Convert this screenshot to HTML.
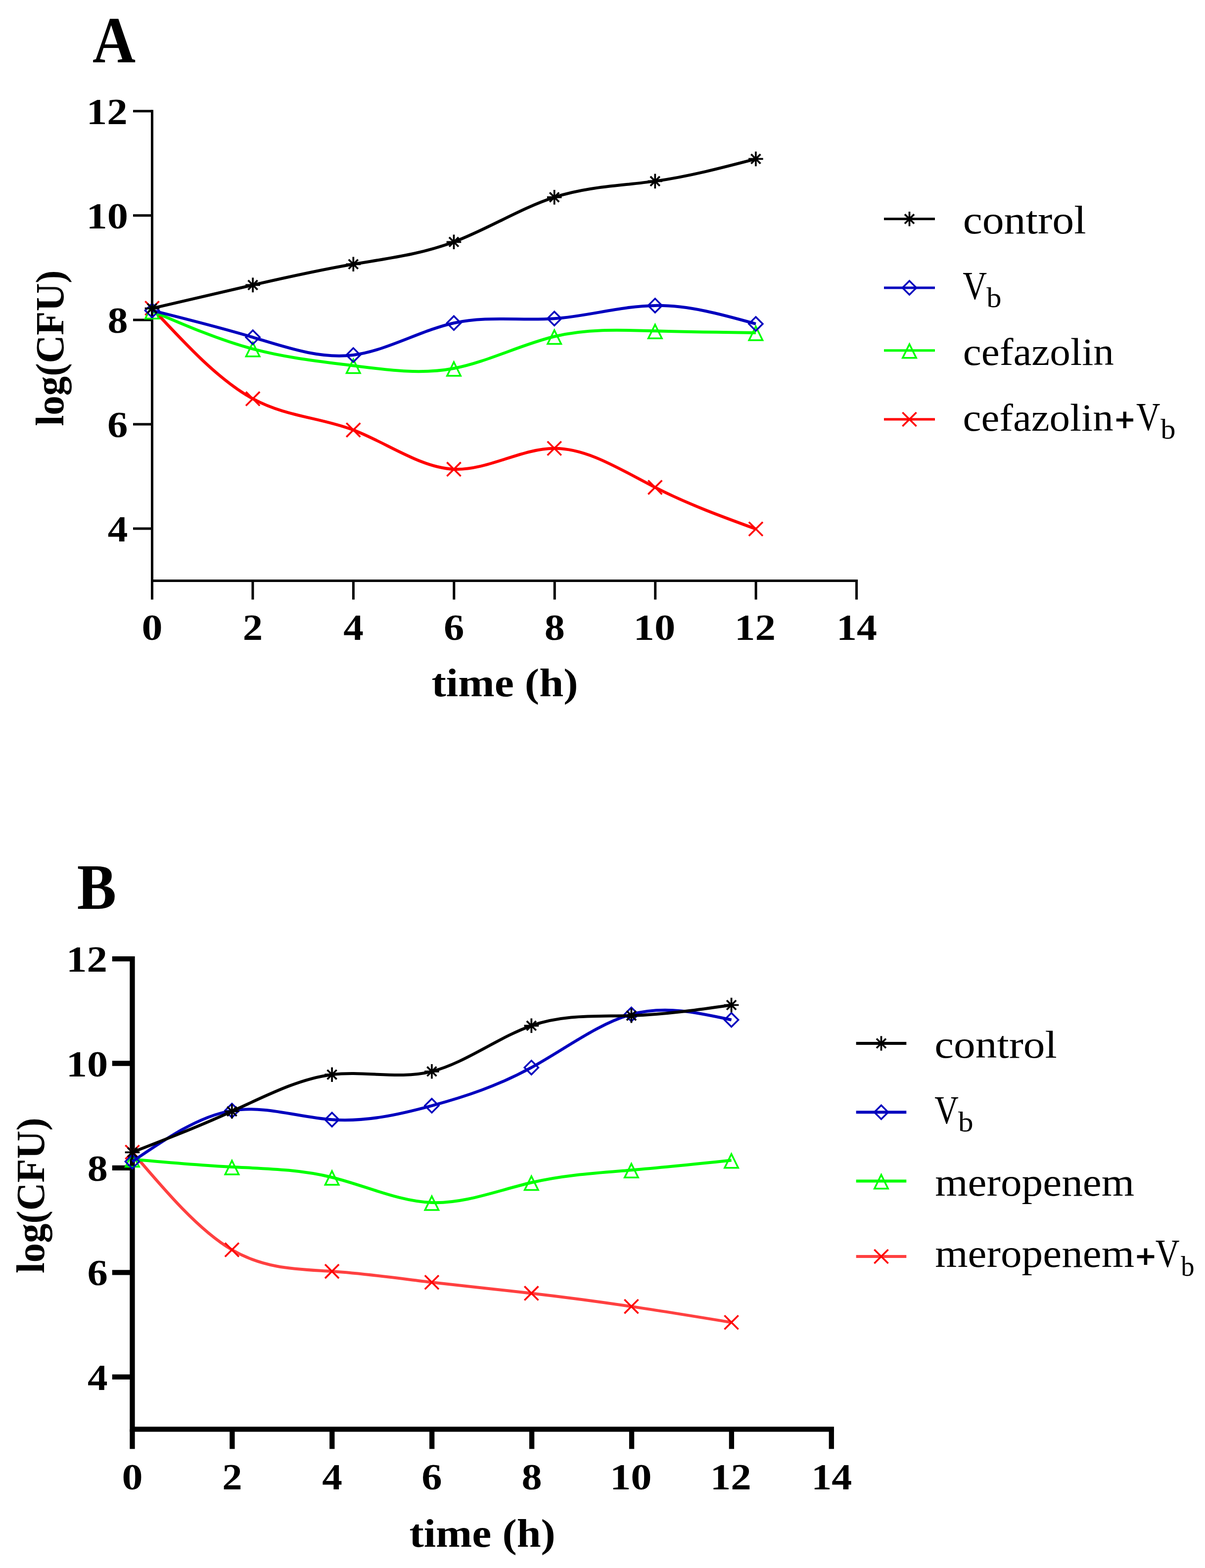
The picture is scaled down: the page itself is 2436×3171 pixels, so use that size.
<!DOCTYPE html>
<html lang="en"><head><meta charset="utf-8"><title>Time-kill curves</title>
<style>html,body{margin:0;padding:0;background:#fff}body{width:2436px;height:3171px;overflow:hidden}svg{display:block}text{font-family:"Liberation Serif",serif;fill:#000}</style>
</head><body>
<svg width="2436" height="3171" viewBox="0 0 2436 3171">
<rect width="2436" height="3171" fill="#fff"/>
<g id="panel-a">
<path d="M307.5 222.3V1174.48H1734.08" stroke="#000" stroke-width="5" fill="none" stroke-linejoin="miter"/>
<path d="M269 1068.96H307.5M269 857.92H307.5M269 646.88H307.5M269 435.84H307.5M269 224.8H307.5M307.5 1174.48V1212.5M510.94 1174.48V1212.5M714.38 1174.48V1212.5M917.82 1174.48V1212.5M1121.26 1174.48V1212.5M1324.7 1174.48V1212.5M1528.14 1174.48V1212.5M1731.58 1174.48V1212.5" stroke="#000" stroke-width="5" fill="none"/>
<text transform="translate(217.78 1094.96) scale(0.8128 0.7430)" font-size="100" font-weight="700">4</text>
<text transform="translate(217.1 883.92) scale(0.8276 0.7430)" font-size="100" font-weight="700">6</text>
<text transform="translate(217.53 672.88) scale(0.8230 0.7430)" font-size="100" font-weight="700">8</text>
<text transform="translate(174.43 461.84) scale(0.8465 0.7430)" font-size="100" font-weight="700">10</text>
<text transform="translate(174.76 250.8) scale(0.8296 0.7430)" font-size="100" font-weight="700">12</text>
<text transform="translate(286.44 1294) scale(0.8424 0.7430)" font-size="100" font-weight="700">0</text>
<text transform="translate(490.76 1294) scale(0.8072 0.7430)" font-size="100" font-weight="700">2</text>
<text transform="translate(694.26 1294) scale(0.8128 0.7430)" font-size="100" font-weight="700">4</text>
<text transform="translate(896.92 1294) scale(0.8276 0.7430)" font-size="100" font-weight="700">6</text>
<text transform="translate(1100.69 1294) scale(0.8230 0.7430)" font-size="100" font-weight="700">8</text>
<text transform="translate(1280.58 1294) scale(0.8465 0.7430)" font-size="100" font-weight="700">10</text>
<text transform="translate(1485.1 1294) scale(0.8296 0.7430)" font-size="100" font-weight="700">12</text>
<text transform="translate(1691.02 1294) scale(0.8199 0.7430)" font-size="100" font-weight="700">14</text>
<text transform="translate(872.38 1408) scale(0.8815 0.7970)" font-size="100" font-weight="700">time (h)</text>
<text transform="translate(127.5 861.58) rotate(-90) scale(0.7883 0.7970)" font-size="100" font-weight="700">log(CFU)</text>
<text transform="translate(186.89 126) scale(1.2071 1.3348)" font-size="100" font-weight="700">A</text>
<path d="M307.5 623.3C375.37 696.41 443.23 769.52 511.1 806.4C578.83 843.2 646.57 843.91 714.3 869.6C782.03 895.29 849.77 945.96 917.5 948.9C985.23 951.84 1052.97 907.05 1120.7 906.8C1188.57 906.55 1256.43 951 1324.3 985.6C1392.17 1020.2 1460.03 1044.95 1527.9 1069.7" stroke="#FF0000" stroke-width="6" fill="none"/>
<path d="M293.47 609.27L321.53 637.33M293.47 637.33L321.53 609.27" stroke="#FF0000" stroke-width="3.6" fill="none"/>
<path d="M497.07 792.37L525.13 820.43M497.07 820.43L525.13 792.37" stroke="#FF0000" stroke-width="3.6" fill="none"/>
<path d="M700.27 855.57L728.33 883.63M700.27 883.63L728.33 855.57" stroke="#FF0000" stroke-width="3.6" fill="none"/>
<path d="M903.47 934.87L931.53 962.93M903.47 962.93L931.53 934.87" stroke="#FF0000" stroke-width="3.6" fill="none"/>
<path d="M1106.67 892.77L1134.73 920.83M1106.67 920.83L1134.73 892.77" stroke="#FF0000" stroke-width="3.6" fill="none"/>
<path d="M1310.27 971.57L1338.33 999.63M1310.27 999.63L1338.33 971.57" stroke="#FF0000" stroke-width="3.6" fill="none"/>
<path d="M1513.87 1055.67L1541.93 1083.73M1513.87 1083.73L1541.93 1055.67" stroke="#FF0000" stroke-width="3.6" fill="none"/>
<path d="M307.5 629.1C375.37 658.31 443.23 687.52 511.1 705.7C578.83 723.85 646.57 731.01 714.3 739.5C782.03 747.99 849.77 757.82 917.5 745C985.23 732.18 1052.97 696.72 1120.7 680.5C1188.57 664.25 1256.43 667.33 1324.3 669.3C1392.17 671.27 1460.03 672.14 1527.9 673" stroke="#00FF00" stroke-width="6" fill="none"/>
<path d="M307.5 616.27L321.19 644.15L293.81 644.15Z" stroke="#00FF00" stroke-width="3.5" fill="none" stroke-linejoin="miter" stroke-miterlimit="10"/>
<path d="M511.1 692.87L524.79 720.75L497.41 720.75Z" stroke="#00FF00" stroke-width="3.5" fill="none" stroke-linejoin="miter" stroke-miterlimit="10"/>
<path d="M714.3 726.67L727.99 754.55L700.61 754.55Z" stroke="#00FF00" stroke-width="3.5" fill="none" stroke-linejoin="miter" stroke-miterlimit="10"/>
<path d="M917.5 732.17L931.19 760.05L903.81 760.05Z" stroke="#00FF00" stroke-width="3.5" fill="none" stroke-linejoin="miter" stroke-miterlimit="10"/>
<path d="M1120.7 667.67L1134.39 695.55L1107.01 695.55Z" stroke="#00FF00" stroke-width="3.5" fill="none" stroke-linejoin="miter" stroke-miterlimit="10"/>
<path d="M1324.3 656.47L1337.99 684.35L1310.61 684.35Z" stroke="#00FF00" stroke-width="3.5" fill="none" stroke-linejoin="miter" stroke-miterlimit="10"/>
<path d="M1527.9 660.17L1541.59 688.05L1514.21 688.05Z" stroke="#00FF00" stroke-width="3.5" fill="none" stroke-linejoin="miter" stroke-miterlimit="10"/>
<path d="M307.5 627.9C375.37 644.78 443.23 661.66 511.1 682.1C578.83 702.5 646.57 726.46 714.3 717.9C782.03 709.34 849.77 668.25 917.5 653.2C985.23 638.15 1052.97 649.13 1120.7 644.3C1188.57 639.46 1256.43 618.76 1324.3 617.9C1392.17 617.04 1460.03 636.02 1527.9 655" stroke="#0000BE" stroke-width="6" fill="none"/>
<path d="M307.5 613.87L321.53 627.9L307.5 641.93L293.47 627.9Z" stroke="#0000BE" stroke-width="3.5" fill="none" stroke-linejoin="miter"/>
<path d="M511.1 668.07L525.13 682.1L511.1 696.13L497.07 682.1Z" stroke="#0000BE" stroke-width="3.5" fill="none" stroke-linejoin="miter"/>
<path d="M714.3 703.87L728.33 717.9L714.3 731.93L700.27 717.9Z" stroke="#0000BE" stroke-width="3.5" fill="none" stroke-linejoin="miter"/>
<path d="M917.5 639.17L931.53 653.2L917.5 667.23L903.47 653.2Z" stroke="#0000BE" stroke-width="3.5" fill="none" stroke-linejoin="miter"/>
<path d="M1120.7 630.27L1134.73 644.3L1120.7 658.33L1106.67 644.3Z" stroke="#0000BE" stroke-width="3.5" fill="none" stroke-linejoin="miter"/>
<path d="M1324.3 603.87L1338.33 617.9L1324.3 631.93L1310.27 617.9Z" stroke="#0000BE" stroke-width="3.5" fill="none" stroke-linejoin="miter"/>
<path d="M1527.9 640.97L1541.93 655L1527.9 669.03L1513.87 655Z" stroke="#0000BE" stroke-width="3.5" fill="none" stroke-linejoin="miter"/>
<path d="M307.5 623.6C375.37 607.75 443.23 591.89 511.1 576.4C578.83 560.94 646.57 545.84 714.3 534.3C782.03 522.76 849.77 514.76 917.5 489.3C985.23 463.84 1052.97 420.9 1120.7 398.9C1188.57 376.85 1256.43 375.81 1324.3 366.4C1392.17 356.99 1460.03 339.19 1527.9 321.4" stroke="#000000" stroke-width="6" fill="none"/>
<path d="M292.7 623.6H322.3M307.5 608.8V638.4M298.02 614.12L316.98 633.08M298.02 633.08L316.98 614.12" stroke="#000000" stroke-width="3.7" fill="none"/>
<path d="M496.3 576.4H525.9M511.1 561.6V591.2M501.62 566.92L520.58 585.88M501.62 585.88L520.58 566.92" stroke="#000000" stroke-width="3.7" fill="none"/>
<path d="M699.5 534.3H729.1M714.3 519.5V549.1M704.82 524.82L723.78 543.78M704.82 543.78L723.78 524.82" stroke="#000000" stroke-width="3.7" fill="none"/>
<path d="M902.7 489.3H932.3M917.5 474.5V504.1M908.02 479.82L926.98 498.78M908.02 498.78L926.98 479.82" stroke="#000000" stroke-width="3.7" fill="none"/>
<path d="M1105.9 398.9H1135.5M1120.7 384.1V413.7M1111.22 389.42L1130.18 408.38M1111.22 408.38L1130.18 389.42" stroke="#000000" stroke-width="3.7" fill="none"/>
<path d="M1309.5 366.4H1339.1M1324.3 351.6V381.2M1314.82 356.92L1333.78 375.88M1314.82 375.88L1333.78 356.92" stroke="#000000" stroke-width="3.7" fill="none"/>
<path d="M1513.1 321.4H1542.7M1527.9 306.6V336.2M1518.42 311.92L1537.38 330.88M1518.42 330.88L1537.38 311.92" stroke="#000000" stroke-width="3.7" fill="none"/>
<path d="M1787 442.8H1890" stroke="#000000" stroke-width="5"/>
<path d="M1823.7 442.8H1853.3M1838.5 428V457.6M1829.02 433.32L1847.98 452.28M1829.02 452.28L1847.98 433.32" stroke="#000000" stroke-width="3.7" fill="none"/>
<path d="M1787 582H1890" stroke="#0000BE" stroke-width="5"/>
<path d="M1838.5 567.97L1852.53 582L1838.5 596.03L1824.47 582Z" stroke="#0000BE" stroke-width="3.5" fill="none" stroke-linejoin="miter"/>
<path d="M1787 708.8H1890" stroke="#00FF00" stroke-width="5"/>
<path d="M1838.5 695.97L1852.19 723.85L1824.81 723.85Z" stroke="#00FF00" stroke-width="3.5" fill="none" stroke-linejoin="miter" stroke-miterlimit="10"/>
<path d="M1787 848H1890" stroke="#FF0000" stroke-width="5"/>
<path d="M1824.47 833.97L1852.53 862.03M1824.47 862.03L1852.53 833.97" stroke="#FF0000" stroke-width="3.6" fill="none"/>
<text><tspan x="1946.71" y="472" font-size="80" textLength="248.86" lengthAdjust="spacingAndGlyphs">control</tspan></text>
<text><tspan x="1946.15" y="604.6" font-size="80.3" textLength="48.87" lengthAdjust="spacingAndGlyphs">V</tspan><tspan x="1994.2" y="621.1" font-size="58" textLength="30.27" lengthAdjust="spacingAndGlyphs">b</tspan></text>
<text><tspan x="1946.68" y="737.5" font-size="79" textLength="305.31" lengthAdjust="spacingAndGlyphs">cefazolin</tspan></text>
<text><tspan x="1946.59" y="870.6" font-size="79" textLength="304.09" lengthAdjust="spacingAndGlyphs">cefazolin</tspan><tspan x="2254.96" y="870.55" font-size="65.55" textLength="37.72" lengthAdjust="spacingAndGlyphs" stroke="#000" stroke-width="3">+</tspan><tspan x="2297.06" y="870.4" font-size="80.3" textLength="48.46" lengthAdjust="spacingAndGlyphs">V</tspan><tspan x="2346.3" y="886.8" font-size="58" textLength="30.27" lengthAdjust="spacingAndGlyphs">b</tspan></text>
</g>
<g id="panel-b">
<path d="M267.5 1933.95V2890.4H1685.95" stroke="#000" stroke-width="10.3" fill="none" stroke-linejoin="miter"/>
<path d="M226.8 2784.7H267.5M226.8 2573.3H267.5M226.8 2361.9H267.5M226.8 2150.5H267.5M226.8 1939.1H267.5M267.5 2890.4V2930.2M469.4 2890.4V2930.2M671.3 2890.4V2930.2M873.2 2890.4V2930.2M1075.1 2890.4V2930.2M1277 2890.4V2930.2M1478.9 2890.4V2930.2M1680.8 2890.4V2930.2" stroke="#000" stroke-width="10.3" fill="none"/>
<text transform="translate(177.08 2810.7) scale(0.8128 0.7430)" font-size="100" font-weight="700">4</text>
<text transform="translate(176.4 2599.3) scale(0.8276 0.7430)" font-size="100" font-weight="700">6</text>
<text transform="translate(176.83 2387.9) scale(0.8230 0.7430)" font-size="100" font-weight="700">8</text>
<text transform="translate(133.73 2176.5) scale(0.8465 0.7430)" font-size="100" font-weight="700">10</text>
<text transform="translate(134.06 1965.1) scale(0.8296 0.7430)" font-size="100" font-weight="700">12</text>
<text transform="translate(246.44 3011.8) scale(0.8424 0.7430)" font-size="100" font-weight="700">0</text>
<text transform="translate(449.22 3011.8) scale(0.8072 0.7430)" font-size="100" font-weight="700">2</text>
<text transform="translate(651.18 3011.8) scale(0.8128 0.7430)" font-size="100" font-weight="700">4</text>
<text transform="translate(852.3 3011.8) scale(0.8276 0.7430)" font-size="100" font-weight="700">6</text>
<text transform="translate(1054.53 3011.8) scale(0.8230 0.7430)" font-size="100" font-weight="700">8</text>
<text transform="translate(1232.88 3011.8) scale(0.8465 0.7430)" font-size="100" font-weight="700">10</text>
<text transform="translate(1435.86 3011.8) scale(0.8296 0.7430)" font-size="100" font-weight="700">12</text>
<text transform="translate(1640.24 3011.8) scale(0.8199 0.7430)" font-size="100" font-weight="700">14</text>
<text transform="translate(827.38 3128) scale(0.8796 0.7970)" font-size="100" font-weight="700">time (h)</text>
<text transform="translate(88.5 2575.07) rotate(-90) scale(0.7870 0.7970)" font-size="100" font-weight="700">log(CFU)</text>
<text transform="translate(155.82 1838.4) scale(1.1904 1.3221)" font-size="100" font-weight="700">B</text>
<path d="M267.5 2330C334.63 2409.06 401.77 2488.13 468.9 2527.5C536.3 2567.03 603.7 2566.55 671.1 2571.1C738.37 2575.64 805.63 2585.18 872.9 2593.2C940.03 2601.21 1007.17 2607.7 1074.3 2615.4C1141.67 2623.13 1209.03 2632.08 1276.4 2642.1C1343.8 2652.12 1411.2 2663.21 1478.6 2674.3" stroke="#FF4040" stroke-width="6" fill="none"/>
<path d="M253.47 2315.97L281.53 2344.03M253.47 2344.03L281.53 2315.97" stroke="#FF0000" stroke-width="3.6" fill="none"/>
<path d="M454.87 2513.47L482.93 2541.53M454.87 2541.53L482.93 2513.47" stroke="#FF0000" stroke-width="3.6" fill="none"/>
<path d="M657.07 2557.07L685.13 2585.13M657.07 2585.13L685.13 2557.07" stroke="#FF0000" stroke-width="3.6" fill="none"/>
<path d="M858.87 2579.17L886.93 2607.23M858.87 2607.23L886.93 2579.17" stroke="#FF0000" stroke-width="3.6" fill="none"/>
<path d="M1060.27 2601.37L1088.33 2629.43M1060.27 2629.43L1088.33 2601.37" stroke="#FF0000" stroke-width="3.6" fill="none"/>
<path d="M1262.37 2628.07L1290.43 2656.13M1262.37 2656.13L1290.43 2628.07" stroke="#FF0000" stroke-width="3.6" fill="none"/>
<path d="M1464.57 2660.27L1492.63 2688.33M1464.57 2688.33L1492.63 2660.27" stroke="#FF0000" stroke-width="3.6" fill="none"/>
<path d="M267.5 2344.5C334.63 2350.51 401.77 2356.52 468.9 2360C536.3 2363.49 603.7 2364.43 671.1 2381C738.37 2397.53 805.63 2429.63 872.9 2432C940.03 2434.37 1007.17 2407.13 1074.3 2391.5C1141.67 2375.82 1209.03 2371.83 1276.4 2366.3C1343.8 2360.76 1411.2 2353.68 1478.6 2346.6" stroke="#00FF00" stroke-width="6" fill="none"/>
<path d="M267.5 2331.67L281.19 2359.55L253.81 2359.55Z" stroke="#00FF00" stroke-width="3.5" fill="none" stroke-linejoin="miter" stroke-miterlimit="10"/>
<path d="M468.9 2347.17L482.59 2375.05L455.21 2375.05Z" stroke="#00FF00" stroke-width="3.5" fill="none" stroke-linejoin="miter" stroke-miterlimit="10"/>
<path d="M671.1 2368.17L684.79 2396.05L657.41 2396.05Z" stroke="#00FF00" stroke-width="3.5" fill="none" stroke-linejoin="miter" stroke-miterlimit="10"/>
<path d="M872.9 2419.17L886.59 2447.05L859.21 2447.05Z" stroke="#00FF00" stroke-width="3.5" fill="none" stroke-linejoin="miter" stroke-miterlimit="10"/>
<path d="M1074.3 2378.67L1087.99 2406.55L1060.61 2406.55Z" stroke="#00FF00" stroke-width="3.5" fill="none" stroke-linejoin="miter" stroke-miterlimit="10"/>
<path d="M1276.4 2353.47L1290.09 2381.35L1262.71 2381.35Z" stroke="#00FF00" stroke-width="3.5" fill="none" stroke-linejoin="miter" stroke-miterlimit="10"/>
<path d="M1478.6 2333.77L1492.29 2361.65L1464.91 2361.65Z" stroke="#00FF00" stroke-width="3.5" fill="none" stroke-linejoin="miter" stroke-miterlimit="10"/>
<path d="M267.5 2349.1C334.63 2303.07 401.77 2257.05 468.9 2246.1C536.3 2235.11 603.7 2259.48 671.1 2264.3C738.37 2269.11 805.63 2254.46 872.9 2236.1C940.03 2217.78 1007.17 2195.76 1074.3 2158.9C1141.67 2121.91 1209.03 2069.97 1276.4 2051.4C1343.8 2032.83 1411.2 2047.66 1478.6 2062.5" stroke="#0000BE" stroke-width="6" fill="none"/>
<path d="M267.5 2335.07L281.53 2349.1L267.5 2363.13L253.47 2349.1Z" stroke="#0000BE" stroke-width="3.5" fill="none" stroke-linejoin="miter"/>
<path d="M468.9 2232.07L482.93 2246.1L468.9 2260.13L454.87 2246.1Z" stroke="#0000BE" stroke-width="3.5" fill="none" stroke-linejoin="miter"/>
<path d="M671.1 2250.27L685.13 2264.3L671.1 2278.33L657.07 2264.3Z" stroke="#0000BE" stroke-width="3.5" fill="none" stroke-linejoin="miter"/>
<path d="M872.9 2222.07L886.93 2236.1L872.9 2250.13L858.87 2236.1Z" stroke="#0000BE" stroke-width="3.5" fill="none" stroke-linejoin="miter"/>
<path d="M1074.3 2144.87L1088.33 2158.9L1074.3 2172.93L1060.27 2158.9Z" stroke="#0000BE" stroke-width="3.5" fill="none" stroke-linejoin="miter"/>
<path d="M1276.4 2037.37L1290.43 2051.4L1276.4 2065.43L1262.37 2051.4Z" stroke="#0000BE" stroke-width="3.5" fill="none" stroke-linejoin="miter"/>
<path d="M1478.6 2048.47L1492.63 2062.5L1478.6 2076.53L1464.57 2062.5Z" stroke="#0000BE" stroke-width="3.5" fill="none" stroke-linejoin="miter"/>
<path d="M267.5 2330.3C334.63 2304.21 401.77 2278.12 468.9 2247.5C536.3 2216.76 603.7 2181.46 671.1 2173.2C738.37 2164.95 805.63 2183.64 872.9 2166.8C940.03 2149.99 1007.17 2097.8 1074.3 2074.3C1141.67 2050.72 1209.03 2056.05 1276.4 2053.9C1343.8 2051.75 1411.2 2042.13 1478.6 2032.5" stroke="#000000" stroke-width="6" fill="none"/>
<path d="M252.7 2330.3H282.3M267.5 2315.5V2345.1M258.02 2320.82L276.98 2339.78M258.02 2339.78L276.98 2320.82" stroke="#000000" stroke-width="3.7" fill="none"/>
<path d="M454.1 2247.5H483.7M468.9 2232.7V2262.3M459.42 2238.02L478.38 2256.98M459.42 2256.98L478.38 2238.02" stroke="#000000" stroke-width="3.7" fill="none"/>
<path d="M656.3 2173.2H685.9M671.1 2158.4V2188M661.62 2163.72L680.58 2182.68M661.62 2182.68L680.58 2163.72" stroke="#000000" stroke-width="3.7" fill="none"/>
<path d="M858.1 2166.8H887.7M872.9 2152V2181.6M863.42 2157.32L882.38 2176.28M863.42 2176.28L882.38 2157.32" stroke="#000000" stroke-width="3.7" fill="none"/>
<path d="M1059.5 2074.3H1089.1M1074.3 2059.5V2089.1M1064.82 2064.82L1083.78 2083.78M1064.82 2083.78L1083.78 2064.82" stroke="#000000" stroke-width="3.7" fill="none"/>
<path d="M1261.6 2053.9H1291.2M1276.4 2039.1V2068.7M1266.92 2044.42L1285.88 2063.38M1266.92 2063.38L1285.88 2044.42" stroke="#000000" stroke-width="3.7" fill="none"/>
<path d="M1463.8 2032.5H1493.4M1478.6 2017.7V2047.3M1469.12 2023.02L1488.08 2041.98M1469.12 2041.98L1488.08 2023.02" stroke="#000000" stroke-width="3.7" fill="none"/>
<path d="M1730.7 2110H1832.3" stroke="#000000" stroke-width="6"/>
<path d="M1766.7 2110H1796.3M1781.5 2095.2V2124.8M1772.02 2100.52L1790.98 2119.48M1772.02 2119.48L1790.98 2100.52" stroke="#000000" stroke-width="3.7" fill="none"/>
<path d="M1730.7 2249.3H1832.3" stroke="#0000BE" stroke-width="6"/>
<path d="M1781.5 2235.27L1795.53 2249.3L1781.5 2263.33L1767.47 2249.3Z" stroke="#0000BE" stroke-width="3.5" fill="none" stroke-linejoin="miter"/>
<path d="M1730.7 2388.6H1832.3" stroke="#00FF00" stroke-width="6"/>
<path d="M1781.5 2375.77L1795.19 2403.65L1767.81 2403.65Z" stroke="#00FF00" stroke-width="3.5" fill="none" stroke-linejoin="miter" stroke-miterlimit="10"/>
<path d="M1730.7 2541H1832.3" stroke="#FF4040" stroke-width="6"/>
<path d="M1767.47 2526.97L1795.53 2555.03M1767.47 2555.03L1795.53 2526.97" stroke="#FF0000" stroke-width="3.6" fill="none"/>
<text><tspan x="1889.22" y="2138.5" font-size="79" textLength="247.53" lengthAdjust="spacingAndGlyphs">control</tspan></text>
<text><tspan x="1889.16" y="2271.6" font-size="80.3" textLength="48.66" lengthAdjust="spacingAndGlyphs">V</tspan><tspan x="1937" y="2288.2" font-size="58" textLength="30.59" lengthAdjust="spacingAndGlyphs">b</tspan></text>
<text><tspan x="1890.19" y="2417.6" font-size="81" textLength="402.91" lengthAdjust="spacingAndGlyphs">meropenem</tspan></text>
<text><tspan x="1890.19" y="2562" font-size="81" textLength="402.91" lengthAdjust="spacingAndGlyphs">meropenem</tspan><tspan x="2296.69" y="2562.75" font-size="65.55" textLength="38.45" lengthAdjust="spacingAndGlyphs" stroke="#000" stroke-width="3">+</tspan><tspan x="2335.75" y="2561.6" font-size="80.3" textLength="48.87" lengthAdjust="spacingAndGlyphs">V</tspan><tspan x="2387.2" y="2579.8" font-size="58" textLength="27.35" lengthAdjust="spacingAndGlyphs">b</tspan></text>
</g>
</svg></body></html>
